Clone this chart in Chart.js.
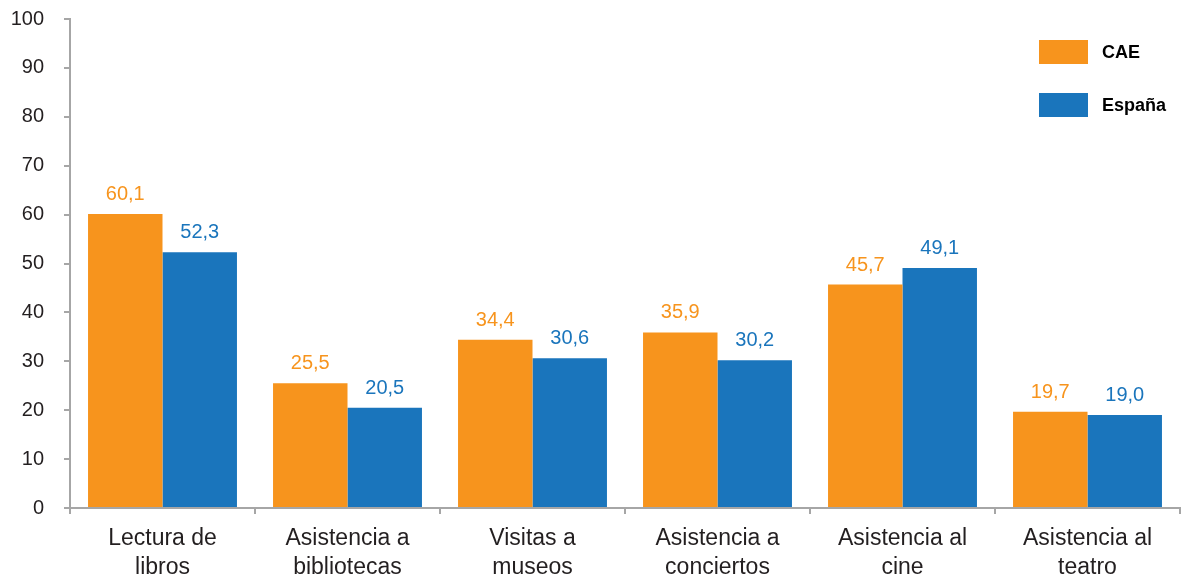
<!DOCTYPE html>
<html>
<head>
<meta charset="utf-8">
<script src="https://cdn.jsdelivr.net/npm/chart.js@4/dist/chart.umd.min.js"></script>
<style>
  html, body { margin: 0; padding: 0; background: #fff; }
  #wrap { width: 1181px; height: 577px; position: relative; }
</style>
</head>
<body>
<div id="wrap"><canvas id="chart"></canvas></div>
<script>
const categories = [
  ["Lectura de", "libros"],
  ["Asistencia a", "bibliotecas"],
  ["Visitas a", "museos"],
  ["Asistencia a", "conciertos"],
  ["Asistencia al", "cine"],
  ["Asistencia al", "teatro"],
];
const seriesNames = ["CAE", "España"];
const caeValues = [60.1, 25.5, 34.4, 35.9, 45.7, 19.7];
const espanaValues = [52.3, 20.5, 30.6, 30.2, 49.1, 19.0];
const yTicks = [0, 10, 20, 30, 40, 50, 60, 70, 80, 90, 100];

const ORANGE = "#f7941d";
const BLUE = "#1a75bc";
const AXIS = "#a6a6a6";
const TEXT = "#231f20";
const FONT = "'Liberation Sans', Arial, sans-serif";

// value labels above bars, spanish decimal comma
const valueLabels = {
  id: "valueLabels",
  afterDatasetsDraw(chart) {
    const ctx = chart.ctx;
    ctx.save();
    ctx.font = "20px " + FONT;
    ctx.textAlign = "center";
    ctx.textBaseline = "alphabetic";
    chart.data.datasets.forEach((ds, i) => {
      chart.getDatasetMeta(i).data.forEach((bar, j) => {
        ctx.fillStyle = ds.backgroundColor;
        ctx.fillText(ds.data[j].toFixed(1).replace(".", ","), bar.x, bar.y - 14);
      });
    });
    ctx.restore();
  },
};

// legend boxes top right
const sideLegend = {
  id: "sideLegend",
  afterDraw(chart) {
    const ctx = chart.ctx;
    ctx.save();
    ctx.font = "bold 18px " + FONT;
    ctx.textBaseline = "middle";
    chart.data.datasets.forEach((ds, i) => {
      const y = 40 + i * 53;
      ctx.fillStyle = ds.backgroundColor;
      ctx.fillRect(1039, y, 49, 24);
      ctx.fillStyle = "#000";
      ctx.fillText(ds.label, 1102, y + 13);
    });
    ctx.restore();
  },
};

new Chart(document.getElementById("chart"), {
  type: "bar",
  data: {
    labels: categories,
    datasets: [
      { label: seriesNames[0], data: caeValues, backgroundColor: ORANGE },
      { label: seriesNames[1], data: espanaValues, backgroundColor: BLUE },
    ],
  },
  options: {
    responsive: true,
    maintainAspectRatio: false,
    animation: false,
    layout: { padding: { top: 19, right: 1, left: 0, bottom: 0 } },
    datasets: {
      bar: { categoryPercentage: 0.805, barPercentage: 1.0 },
    },
    plugins: {
      legend: { display: false },
      tooltip: { enabled: false },
    },
    scales: {
      x: {
        border: { color: AXIS, width: 2 },
        grid: {
          drawOnChartArea: false,
          drawTicks: true,
          tickLength: 6,
          color: AXIS,
          lineWidth: 2,
        },
        ticks: {
          color: TEXT,
          font: { family: FONT, size: 23, lineHeight: 1.26 },
          padding: 10,
          maxRotation: 0,
        },
        afterFit(scale) {
          scale.height = 69;
          scale.paddingLeft = 0;
          scale.paddingRight = 0;
        },
      },
      y: {
        min: 0,
        max: 100,
        afterBuildTicks(scale) {
          scale.ticks = yTicks.map((v) => ({ value: v }));
        },
        border: { color: AXIS, width: 2 },
        grid: {
          drawOnChartArea: false,
          drawTicks: true,
          tickLength: 6,
          color: AXIS,
          lineWidth: 2,
        },
        ticks: {
          color: TEXT,
          font: { family: FONT, size: 20 },
          padding: 20,
        },
        afterFit(scale) {
          scale.width = 70;
          scale.paddingTop = 0;
          scale.paddingBottom = 0;
        },
      },
    },
  },
  plugins: [valueLabels, sideLegend],
});
</script>
</body>
</html>
